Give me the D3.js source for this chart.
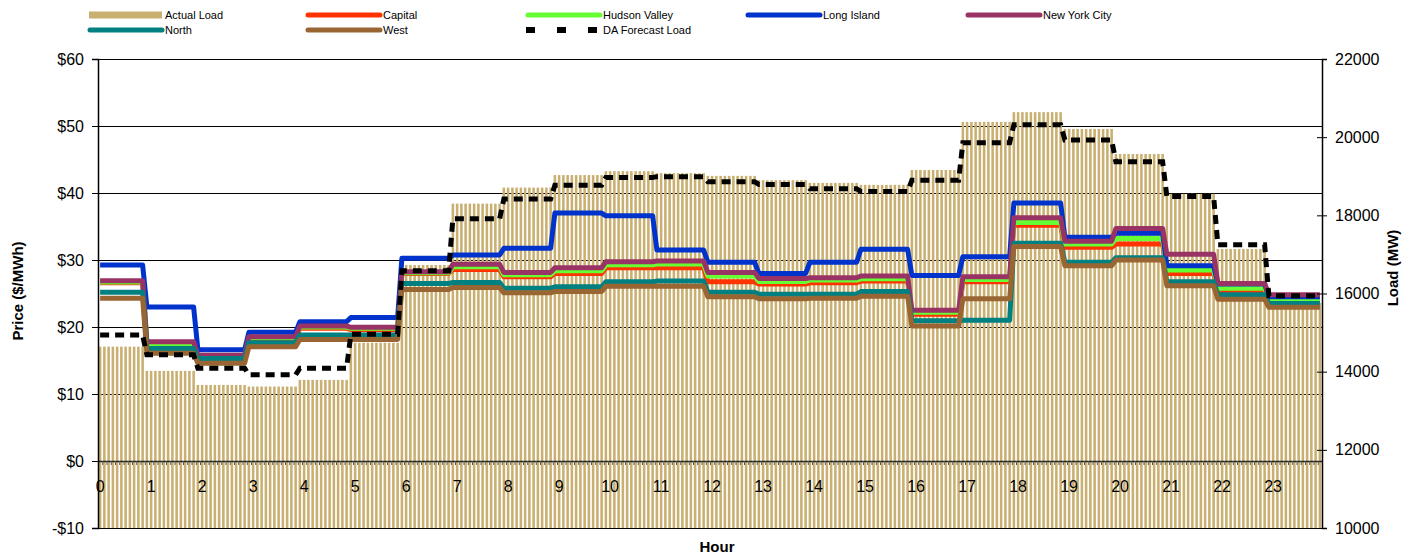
<!DOCTYPE html>
<html>
<head>
<meta charset="utf-8">
<script src="https://cdn.jsdelivr.net/npm/d3@7/dist/d3.min.js"></script>
<style>
  body { margin: 0; background: #fff; }
  svg { font-family: "Liberation Sans", Arial, sans-serif; }
</style>
</head>
<body>
<svg class="chart"></svg>
<script>
// hourly values, each held for the 12 five-minute intervals of that hour
var hourLabels = ["0","1","2","3","4","5","6","7","8","9","10","11","12","13","14","15","16","17","18","19","20","21","22","23"];

var actualLoad = [14640, 14020, 13660, 13620, 13790, 14740, 16730, 18300, 18710, 19030, 19130, 19080,
                  19010, 18900, 18830, 18780, 19160, 20390, 20640, 20210, 19570, 18550, 17140, 15760];
var daForecast = [14940, 14430, 14090, 13920, 14090, 14960, 16580, 17910, 18420, 18770, 18970, 18990,
                  18860, 18790, 18680, 18610, 18900, 19860, 20320, 19930, 19370, 18480, 17250, 15940];

var capital      = [26.6, 17.3, 15.5, 18.2, 19.8, 19.6, 28.0, 28.6, 27.5, 28.0, 28.85, 28.85,
                    26.75, 26.4, 26.6, 26.85, 21.9, 26.75, 35.2, 31.9, 32.4, 28.0, 25.4, 24.0];
var hudsonValley = [26.7, 17.5, 15.6, 18.4, 20.0, 19.8, 28.1, 29.0, 27.8, 28.4, 29.3, 29.4,
                    27.6, 26.8, 27.0, 27.2, 22.2, 27.1, 35.6, 32.4, 33.2, 28.5, 25.8, 24.2];
var longIsland   = [29.25, 23.0, 16.6, 19.2, 20.8, 21.4, 30.25, 30.75, 31.75, 37.0, 36.6, 31.5,
                    29.65, 28.0, 29.65, 31.6, 27.7, 30.5, 38.5, 33.4, 34.0, 29.15, 26.4, 24.5];
var newYorkCity  = [26.9, 17.8, 15.8, 18.55, 20.15, 19.95, 28.25, 29.35, 28.15, 28.85, 29.75, 29.85,
                    28.15, 27.25, 27.35, 27.6, 22.5, 27.5, 36.3, 32.8, 34.7, 30.85, 26.5, 24.8];
var north        = [25.2, 16.8, 15.3, 17.65, 18.8, 18.8, 26.5, 26.65, 25.8, 26.0, 26.75, 26.85,
                    25.2, 24.9, 24.9, 25.3, 20.95, 21.0, 32.5, 29.65, 30.35, 26.75, 24.8, 23.5];
var west         = [24.3, 16.1, 14.6, 17.05, 18.15, 18.15, 25.6, 25.9, 25.1, 25.3, 26.1, 26.1,
                    24.5, 24.2, 24.3, 24.6, 20.15, 24.2, 32.0, 29.15, 30.0, 26.15, 24.15, 22.95];

var priceTicks = [-10, 0, 10, 20, 30, 40, 50, 60];
var loadTicks = [10000, 12000, 14000, 16000, 18000, 20000, 22000];

var margin = {top: 59, right: 87, bottom: 27, left: 98};
var chartWidth = 1409 - margin.left - margin.right;
var chartHeight = 555 - margin.top - margin.bottom;

var svg = d3.select('.chart').attr("width", 1409).attr("height", 555);
var chart = svg.append("g").attr("transform", "translate(" + margin.left + "," + margin.top + ")");

// 288 five-minute intervals; the hour change shows up one interval early
var intervals = d3.range(288);
function hourOf(i) { return Math.min(23, Math.floor((i + 1) / 12)); }

var x = d3.scaleBand().domain(intervals).range([0, chartWidth]).paddingInner(0.4).paddingOuter(0.2);
var xEdge = d3.scaleLinear().domain([0, 288]).range([0, chartWidth]);
var yPrice = d3.scaleLinear().domain([-10, 60]).range([chartHeight, 0]);
var yLoad = d3.scaleLinear().domain([10000, 22000]).range([chartHeight, 0]);
function cx(i) { return x(i) + x.bandwidth() / 2; }

// gridlines (behind the load bars)
chart.append("g")
  .call(d3.axisLeft(yPrice).tickValues(priceTicks).tickSize(-chartWidth).tickFormat(""))
  .call(function(g) { g.select(".domain").remove(); })
  .selectAll("line").attr("stroke", "#000").attr("stroke-width", 1);

// actual load bars
chart.append("g").selectAll("rect")
  .data(intervals)
  .enter().append("rect")
  .attr("x", function(i) { return x(i); })
  .attr("width", x.bandwidth())
  .attr("y", function(i) { return yLoad(actualLoad[hourOf(i)]); })
  .attr("height", function(i) { return chartHeight - yLoad(actualLoad[hourOf(i)]); })
  .attr("fill", "#C9B071");

// category axis at $0
var xAxis = chart.append("g")
  .attr("transform", "translate(0," + yPrice(0) + ")")
  .call(d3.axisBottom(xEdge).tickValues(d3.range(289)).tickSize(4).tickSizeOuter(0).tickFormat(""));
xAxis.select(".domain").attr("stroke", "#222").attr("stroke-width", 1.5);
xAxis.selectAll(".tick line").attr("stroke", "#555");

chart.append("g").selectAll("text")
  .data(hourLabels)
  .enter().append("text")
  .attr("x", function(d, h) { return cx(h * 12); })
  .attr("y", yPrice(0) + 31)
  .attr("text-anchor", "middle")
  .style("font-size", "16px")
  .text(function(d) { return d; });

// price lines
var priceSeries = [
  {name: "Capital", values: capital, color: "#FF3300"},
  {name: "Hudson Valley", values: hudsonValley, color: "#66FF33"},
  {name: "Long Island", values: longIsland, color: "#0033CC"},
  {name: "New York City", values: newYorkCity, color: "#993366"},
  {name: "North", values: north, color: "#008080"},
  {name: "West", values: west, color: "#996633"}
];

priceSeries.forEach(function(s) {
  var valueLine = d3.line()
    .x(function(i) { return cx(i); })
    .y(function(i) { return yPrice(s.values[hourOf(i)]); });
  chart.append("path")
    .datum(intervals)
    .attr("d", valueLine)
    .attr("fill", "none")
    .attr("stroke", s.color)
    .attr("stroke-width", 5)
    .attr("stroke-linejoin", "round");
});

// day-ahead forecast load
var daLine = d3.line()
  .x(function(i) { return cx(i); })
  .y(function(i) { return yLoad(daForecast[hourOf(i)]); });
chart.append("path")
  .datum(intervals)
  .attr("d", daLine)
  .attr("fill", "none")
  .attr("stroke", "#000")
  .attr("stroke-width", 5)
  .attr("stroke-dasharray", "9,6");

// left axis
var leftAxis = chart.append("g")
  .call(d3.axisLeft(yPrice).tickValues(priceTicks).tickSize(6).tickPadding(8)
    .tickFormat(function(d) { return d < 0 ? "-$" + (-d) : "$" + d; }));
leftAxis.select(".domain").attr("stroke", "#000").attr("stroke-width", 1.5);
leftAxis.selectAll("text").style("font-size", "16px").attr("fill", "#000");

// right axis
var rightAxis = chart.append("g")
  .attr("transform", "translate(" + chartWidth + ",0)")
  .call(d3.axisRight(yLoad).tickValues(loadTicks).tickSize(5).tickPadding(8).tickFormat(d3.format("d")));
rightAxis.select(".domain").attr("stroke", "#000").attr("stroke-width", 1.5);
rightAxis.selectAll(".tick line").attr("x1", -5).attr("x2", 5);
rightAxis.selectAll("text").style("font-size", "16px").attr("fill", "#000");

// axis titles
svg.append("text")
  .attr("transform", "translate(23,291) rotate(-90)")
  .attr("text-anchor", "middle")
  .style("font-size", "15px").style("font-weight", "bold")
  .text("Price ($/MWh)");
svg.append("text")
  .attr("transform", "translate(1398,268) rotate(-90)")
  .attr("text-anchor", "middle")
  .style("font-size", "15px").style("font-weight", "bold")
  .text("Load (MW)");
svg.append("text")
  .attr("x", 717).attr("y", 552)
  .attr("text-anchor", "middle")
  .style("font-size", "15px").style("font-weight", "bold")
  .text("Hour");

// legend
var legendCols = [88, 306, 526, 746, 966];
var legendItems = [
  {name: "Actual Load", col: 0, row: 0, type: "bar", color: "#C9B071"},
  {name: "Capital", col: 1, row: 0, type: "line", color: "#FF3300"},
  {name: "Hudson Valley", col: 2, row: 0, type: "line", color: "#66FF33"},
  {name: "Long Island", col: 3, row: 0, type: "line", color: "#0033CC"},
  {name: "New York City", col: 4, row: 0, type: "line", color: "#993366"},
  {name: "North", col: 0, row: 1, type: "line", color: "#008080"},
  {name: "West", col: 1, row: 1, type: "line", color: "#996633"},
  {name: "DA Forecast Load", col: 2, row: 1, type: "dash", color: "#000"}
];
var legend = svg.append("g").selectAll("g")
  .data(legendItems)
  .enter().append("g")
  .attr("transform", function(d) { return "translate(" + legendCols[d.col] + "," + (15 + d.row * 15) + ")"; });

legend.filter(function(d) { return d.type === "bar"; })
  .append("rect").attr("x", 1).attr("y", -3.5).attr("width", 73).attr("height", 7).attr("fill", function(d) { return d.color; });
legend.filter(function(d) { return d.type === "line"; })
  .append("line").attr("x1", 2).attr("x2", 74).attr("y1", 0).attr("y2", 0)
  .attr("stroke", function(d) { return d.color; }).attr("stroke-width", 5).attr("stroke-linecap", "round");
legend.filter(function(d) { return d.type === "dash"; })
  .append("line").attr("x1", 0).attr("x2", 76).attr("y1", 0).attr("y2", 0)
  .attr("stroke", "#000").attr("stroke-width", 6).attr("stroke-dasharray", "9,22");
legend.append("text")
  .attr("x", 77).attr("dy", "0.35em")
  .style("font-size", "11px")
  .text(function(d) { return d.name; });
</script>
</body>
</html>
